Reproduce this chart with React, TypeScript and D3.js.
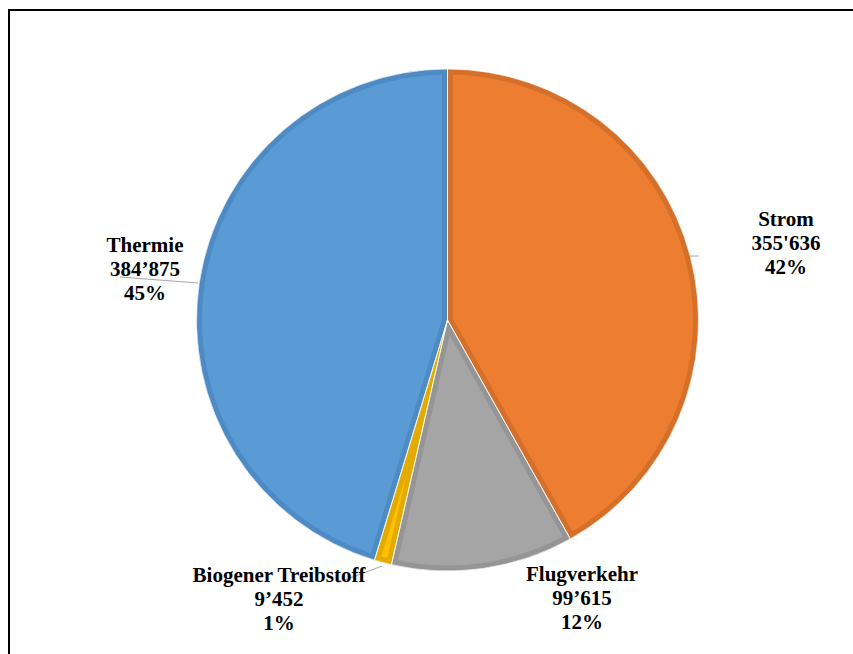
import React from "react";
import * as d3 from "d3";

const categories = ["Strom", "Flugverkehr", "Biogener Treibstoff", "Thermie"];
const values = [355636, 99615, 9452, 384875];
const valueLabels = ["355'636", "99’615", "9’452", "384’875"];
const percentLabels = ["42%", "12%", "1%", "45%"];
const fills = ["#ED7D31", "#A5A5A5", "#FFC000", "#5B9BD5"];
const strokes = ["#D5702A", "#959595", "#E3AA00", "#4E8AC3"];

// label layout (center x, baseline of first line) and leader lines
const labelPos: [number, number][] = [
  [786, 226],
  [582, 581],
  [279, 582],
  [145, 252],
];
const leaders: [number, number, number, number][] = [
  [690, 256, 699, 256],
  [0, 0, 0, 0],
  [337, 583, 382, 566],
  [120, 277, 198, 283],
];

const W = 853;
const H = 654;
const cx = 447.5;
const cy = 320;
const R = 251;

export default function App() {
  const pie = d3.pie<number>().sort(null).value((d) => d);
  const arcs = pie(values);
  const arc = d3.arc<d3.PieArcDatum<number>>().innerRadius(0).outerRadius(R);
  return (
    <div style={{ position: "absolute", left: 0, top: 0 }}>
      <svg width={W} height={H} style={{ display: "block" }}>
        <rect x={0} y={0} width={W} height={H} fill="#fff" />
        <rect x={9} y={10} width={W + 20} height={H + 20} fill="none" stroke="#000" strokeWidth={2} />
        <defs>
          {arcs.map((a, i) => (
            <clipPath id={`clip${i}`} key={i}>
              <path d={arc(a) || ""} transform={`translate(${cx},${cy})`} />
            </clipPath>
          ))}
        </defs>
        {arcs.map((a, i) => (
          <g key={i} clipPath={`url(#clip${i})`}>
            <path
              d={arc(a) || ""}
              transform={`translate(${cx},${cy})`}
              fill={fills[i]}
              stroke={strokes[i]}
              strokeWidth={11}
              strokeLinejoin="miter"
            />
          </g>
        ))}
        {arcs.map((a, i) => (
          <path
            key={"w" + i}
            d={arc(a) || ""}
            transform={`translate(${cx},${cy})`}
            fill="none"
            stroke="#fff"
            strokeWidth={1}
            strokeOpacity={0.7}
          />
        ))}
        {leaders.map((l, i) =>
          l[0] === 0 ? null : (
            <line key={"l" + i} x1={l[0]} y1={l[1]} x2={l[2]} y2={l[3]} stroke="#A6A6A6" strokeWidth={1} />
          )
        )}
        {categories.map((c, i) => (
          <text
            key={"t" + i}
            x={labelPos[i][0]}
            y={labelPos[i][1]}
            textAnchor="middle"
            fontFamily="'Liberation Serif', 'Times New Roman', serif"
            fontWeight="bold"
            fontSize={21}
            fill="#000"
          >
            <tspan x={labelPos[i][0]} dy={0}>{c}</tspan>
            <tspan x={labelPos[i][0]} dy={24}>{valueLabels[i]}</tspan>
            <tspan x={labelPos[i][0]} dy={24}>{percentLabels[i]}</tspan>
          </text>
        ))}
      </svg>
    </div>
  );
}
